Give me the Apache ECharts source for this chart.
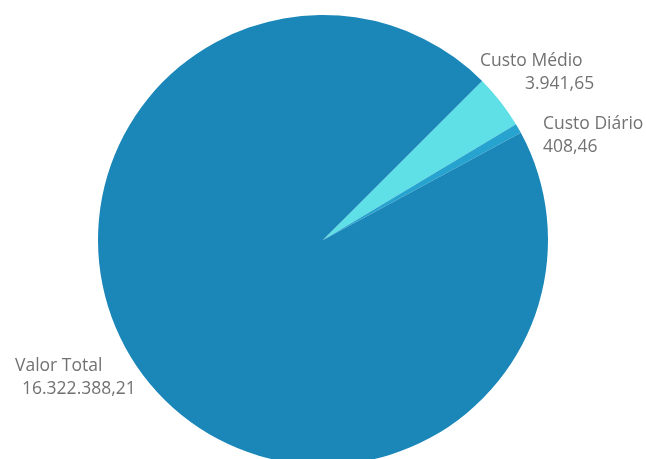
<!DOCTYPE html>
<html>
<head>
<meta charset="utf-8">
<script src="https://cdn.jsdelivr.net/npm/echarts@6/dist/echarts.min.js"></script>
<style>
  html, body { margin: 0; padding: 0; background: #fff; }
  #chart { width: 646px; height: 459px; }
</style>
</head>
<body>
<div id="chart"></div>
<script>
var categories = ['Custo Médio', 'Custo Diário', 'Valor Total'];
var amounts = [3941.65, 408.46, 16322388.21];   // valores mostrados nos rótulos
var shares = [3.9, 0.7, 95.4];                   // fatia do círculo (%)
var colors = ['#5ee0e6', '#27a3cf', '#1b87b9'];

// posição dos rótulos (canto superior esquerdo) e recuo da segunda linha
var labelPos = [[480, 49], [543, 112], [15, 354]];
var valueIndent = [45, 0, 7];

function formatBR(n) {
    var parts = n.toFixed(2).split('.');
    return parts[0].replace(/\B(?=(\d{3})+(?!\d))/g, '.') + ',' + parts[1];
}

var seriesData = [];
categories.forEach(function (c, i) {
    seriesData.push({
        name: c,
        value: shares[i],
        amount: amounts[i],
        itemStyle: {color: colors[i]},
        label: {
            rich: {
                n: {color: '#727272', fontSize: 17.5, fontFamily: 'Open Sans', lineHeight: 23.5},
                v: {color: '#727272', fontSize: 17.5, fontFamily: 'Open Sans', lineHeight: 23.5,
                    padding: [0, 0, 0, valueIndent[i]]}
            }
        }
    });
});

var myChart = echarts.init(document.getElementById('chart'));
myChart.setOption({
    animation: false,
    series: [
        {
            type: 'pie',
            center: [323, 240],
            radius: 225,
            startAngle: 45,
            clockwise: true,
            data: seriesData,
            label: {
                show: true,
                position: 'outside',
                overflow: 'none',
                width: 200,
                formatter: function (p) {
                    return '{n|' + p.name + '}\n{v|' + formatBR(p.data.amount) + '}';
                }
            },
            labelLine: {show: false},
            labelLayout: function (params) {
                var pos = labelPos[params.dataIndex];
                return {x: pos[0], y: pos[1], align: 'left', verticalAlign: 'top'};
            },
            emphasis: {disabled: true}
        }
    ]
});
</script>
</body>
</html>
